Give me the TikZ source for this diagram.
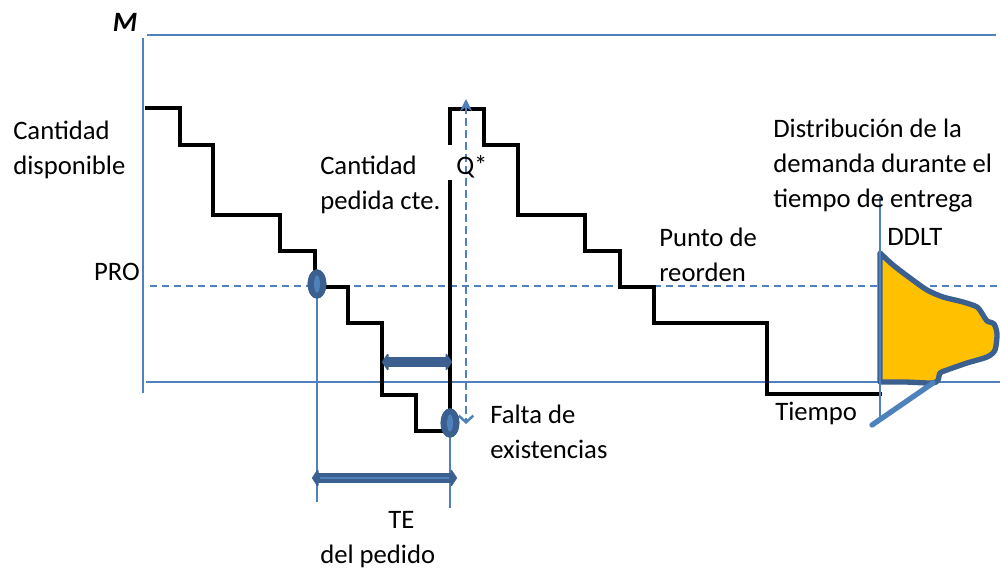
\documentclass[tikz,border=0pt]{standalone}
\usepackage{fontspec}
\setmainfont{Carlito}
\usetikzlibrary{arrows.meta,shapes.geometric}
\definecolor{axisblue}{HTML}{4F81BD}
\definecolor{darkblue}{HTML}{3B5F8F}
\definecolor{ddltyellow}{HTML}{FFC000}
\begin{document}
\begin{tikzpicture}[x=0.75pt,y=-0.75pt,
  lbl/.style={font=\fontsize{20}{26.25}\selectfont, inner sep=0pt, align=left},
  axisline/.style={axisblue, line width=2.1pt},
  thinblue/.style={axisblue, line width=1.7pt},
  stair/.style={black, line width=2.5pt},
  dashblue/.style={axisblue, line width=1.9pt, dash pattern=on 5.5pt off 3.5pt},
  marker/.style={ellipse, fill=darkblue, inner sep=0pt, minimum width=14pt, minimum height=22pt},
  thickarrow/.style={darkblue, line width=8pt, {Triangle[round, length=5pt, width=15pt]}-{Triangle[round, length=5pt, width=15pt]}}]
\useasboundingbox (0,0) rectangle (1000,570);

% axes
\coordinate (axtop) at (143,38);
\coordinate (axbot) at (143,393);
\draw[axisline] (axtop) -- (axbot);
\coordinate (mL) at (147,35);
\coordinate (mR) at (996,35);
\draw[axisline] (mL) -- (mR);
\coordinate (bL) at (146,382);
\coordinate (bR) at (1000,382);
\draw[axisline] (bL) -- (bR);
\node[font=\fontsize{21}{24}\selectfont\bfseries\itshape, inner sep=0pt] (M) at (125,22) {M};

% reorder point dashed line
\coordinate (proL) at (150,286);
\coordinate (proR) at (1000,286);
\draw[dashblue] (proL) -- (proR);

% stairs
\draw[stair] (145,108) -- (180,108) -- (180,145) -- (213,145) -- (213,215) -- (280,215) -- (280,251)
  -- (315,251) -- (315,287) -- (348,287) -- (348,323) -- (382,323) -- (382,395) -- (416,395)
  -- (416,431) -- (450,431) -- (450,180);
\draw[stair] (450,145) -- (450,109) -- (484,109) -- (484,145) -- (518,145) -- (518,215) -- (585,215)
  -- (585,251) -- (620,251) -- (620,287) -- (654,287) -- (654,323) -- (767,323) -- (767,394) -- (882,394);

% Q* dashed arrow
\coordinate (qtop) at (466,99);
\coordinate (qbot) at (466,424);
\draw[dashblue, {Stealth[length=9pt,width=9pt]}-{Straight Barb[length=5pt,width=11pt]}] (qtop) -- (qbot);

% thin verticals
\coordinate (v1b) at (317,502);
\coordinate (v2b) at (450,508);
\node[marker] (e1) at (317,284) {};
\node[marker] (e2) at (450,423) {};
\draw[thinblue] (e1.center) -- (v1b);
\draw[thinblue] (e2.center) -- (v2b);
\node[marker] at (e1) {};
\node[marker] at (e2) {};
\fill[axisblue] (e1.center) ellipse (2.2pt and 6.5pt);
\fill[axisblue] (e2.center) ellipse (2.2pt and 6.5pt);

% thick arrows
\coordinate (a1L) at (382,362);
\coordinate (a1R) at (452,362);
\draw[thickarrow] (a1L) -- (a1R);
\coordinate (a2L) at (312,478);
\coordinate (a2R) at (457,478);
\draw[thickarrow] (a2L) -- (a2R);
\draw[axisblue, line width=1.4pt] (320,478) -- (449,478);

% DDLT distribution
\filldraw[fill=ddltyellow, draw=darkblue, line width=4pt, line join=round]
  plot[smooth, tension=0.45] coordinates {(880,253) (893,265) (910,278) (927,290) (943,297) (963,302)
  (977,307) (983,315) (987,321) (994,324) (997,334) (995,350) (987,357) (967,363) (947,370) (940,373)
  (938,380) (932,383) (905,382) (880,382)} -- cycle;
\coordinate (dtop) at (880,197);
\coordinate (dbot) at (880,418);
\draw[thinblue] (dtop) -- (dbot);
\coordinate (diagL) at (872,425);
\coordinate (diagR) at (933,383);
\draw[axisblue, line width=4pt, line cap=round] (diagL) -- (diagR);

% labels
\node[lbl, anchor=west] (cd) at (13,150) {Cantidad\\disponible};
\node[lbl, anchor=east] (pro) at (140,272) {PRO};
\node[lbl, anchor=west] (cp) at (320,185) {Cantidad\\pedida cte.};
\node[lbl, anchor=west] (q) at (456,167) {Q*};
\node[lbl, anchor=west] (pr) at (659,255) {Punto de\\reorden};
\node[lbl, anchor=west] (dist) at (773,166) {Distribución de la\\demanda durante el\\tiempo de entrega};
\node[lbl, anchor=west] (ddlt) at (887,237) {DDLT};
\node[lbl, anchor=west] (falta) at (490,432) {Falta de\\existencias};
\node[lbl, anchor=west] (tiempo) at (775,413) {Tiempo};
\node[lbl, anchor=west] (te) at (320,540) {\hspace*{51pt}TE\\del pedido};
\end{tikzpicture}
\end{document}
